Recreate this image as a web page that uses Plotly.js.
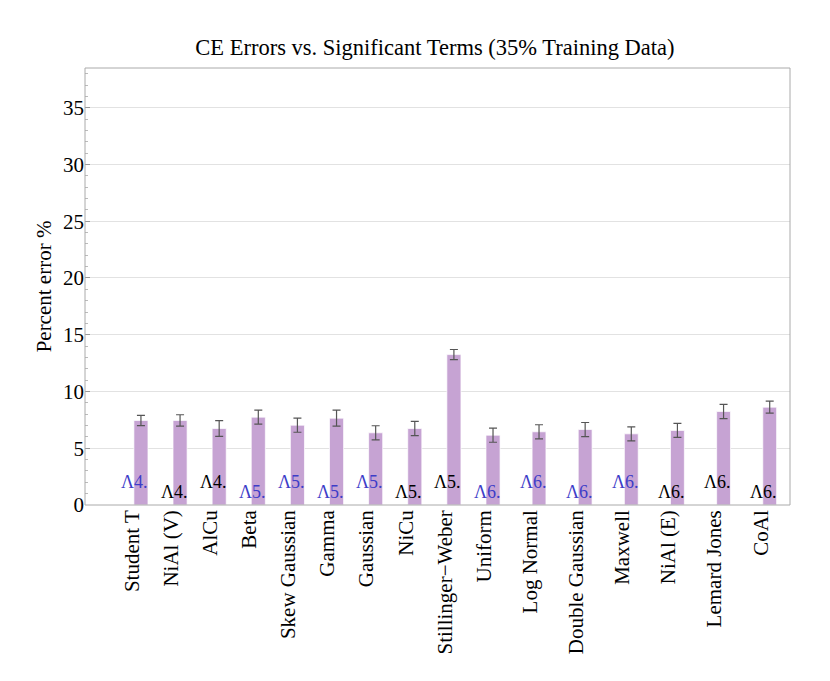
<!DOCTYPE html>
<html>
<head>
<meta charset="utf-8">
<script src="https://cdn.plot.ly/plotly-3.0.1.min.js"></script>
<style>body{margin:0;background:#fff}</style>
</head>
<body>
<div id="chart" style="width:830px;height:681px"></div>
<script>
// Categorias e valores
var categories = ['Student T', 'NiAl (V)', 'AlCu', 'Beta', 'Skew Gaussian', 'Gamma', 'Gaussian', 'NiCu',
  'Stillinger\u2212Weber', 'Uniform', 'Log Normal', 'Double Gaussian', 'Maxwell', 'NiAl (E)', 'Lemard Jones', 'CoAl'];
var errors = [7.45, 7.45, 6.74, 7.74, 7.03, 7.65, 6.36, 6.74, 13.25, 6.15, 6.45, 6.65, 6.27, 6.57, 8.24, 8.62];
var errorBars = [0.45, 0.5, 0.7, 0.62, 0.62, 0.7, 0.62, 0.62, 0.45, 0.62, 0.62, 0.62, 0.62, 0.62, 0.63, 0.53];
var termLabels = ['\u039b4.', '\u039b4.', '\u039b4.', '\u039b5.', '\u039b5.', '\u039b5.', '\u039b5.', '\u039b5.',
  '\u039b5.', '\u039b6.', '\u039b6.', '\u039b6.', '\u039b6.', '\u039b6.', '\u039b6.', '\u039b6.'];
var isDistribution = [true, false, false, true, true, true, true, false, false, true, true, true, true, false, false, false];

var split = 10; // os ultimos 6 ficam mais espaçados
var font = "'Liberation Serif', 'Times New Roman', serif";

function barTrace(from, to, xa, w) {
  return {
    type: 'bar',
    x: categories.slice(from, to),
    y: errors.slice(from, to),
    xaxis: xa, yaxis: 'y',
    width: w,
    marker: { color: '#c6a3d3', line: { color: 'rgba(255,255,255,0.7)', width: 1 } },
    error_y: { type: 'data', array: errorBars.slice(from, to), color: '#555', thickness: 1.2, width: 4 },
    hoverinfo: 'x+y'
  };
}

var data = [
  barTrace(0, split, 'x', 0.36),
  barTrace(split, categories.length, 'x2', 0.30)
];

var annotations = categories.map(function (c, i) {
  return {
    x: c, y: i % 2 === 0 ? 2.0 : 1.15,
    xref: i < split ? 'x' : 'x2', yref: 'y',
    text: termLabels[i], showarrow: false, xshift: -6,
    font: { family: font, size: 18, color: isDistribution[i] ? '#3d3dc8' : '#000' }
  };
});

var xCommon = {
  type: 'category', anchor: 'y', showline: false, showgrid: false, zeroline: false,
  ticks: '', tickangle: -90, ticklabelshift: -9,
  tickfont: { family: font, size: 21, color: '#000' }
};

var layout = {
  width: 830, height: 681,
  margin: { l: 85, r: 40, t: 68, b: 176 },
  paper_bgcolor: '#fff', plot_bgcolor: '#fff',
  showlegend: false,
  font: { family: font, color: '#000' },
  title: {
    text: 'CE Errors vs. Significant Terms (35% Training Data)',
    font: { family: font, size: 22.5, color: '#000' },
    x: 0.524, xanchor: 'center', y: 0.931, yanchor: 'middle', yref: 'container'
  },
  xaxis: Object.assign({}, xCommon, { domain: [0, 0.6065], range: [-1.43, 9.5] }),
  xaxis2: Object.assign({}, xCommon, { domain: [0.6065, 1], range: [-0.573, 5.44] }),
  yaxis: {
    anchor: 'x', range: [0, 38.5], dtick: 5,
    ticks: 'inside', ticklen: 5, tickcolor: '#999',
    minor: { dtick: 1, ticks: 'inside', ticklen: 3, tickcolor: '#bbb' },
    showgrid: true, gridcolor: '#e2e2e2', zeroline: false, showline: false,
    tickfont: { family: font, size: 21, color: '#000' },
    title: { text: 'Percent error %', font: { family: font, size: 21, color: '#000' }, standoff: 5 }
  },
  yaxis2: {
    overlaying: 'y', side: 'right', anchor: 'x2', range: [0, 38.5], dtick: 5,
    ticks: 'inside', ticklen: 5, tickcolor: '#999',
    minor: { dtick: 1, ticks: 'inside', ticklen: 3, tickcolor: '#bbb' },
    showgrid: false, zeroline: false, showline: false, showticklabels: false
  },
  shapes: [{
    type: 'rect', xref: 'paper', yref: 'paper', x0: 0, x1: 1, y0: 0, y1: 1,
    line: { color: '#aaa', width: 1 }, layer: 'above'
  }],
  annotations: annotations
};

Plotly.newPlot('chart', data, layout, { displayModeBar: false, staticPlot: true });
</script>
</body>
</html>
